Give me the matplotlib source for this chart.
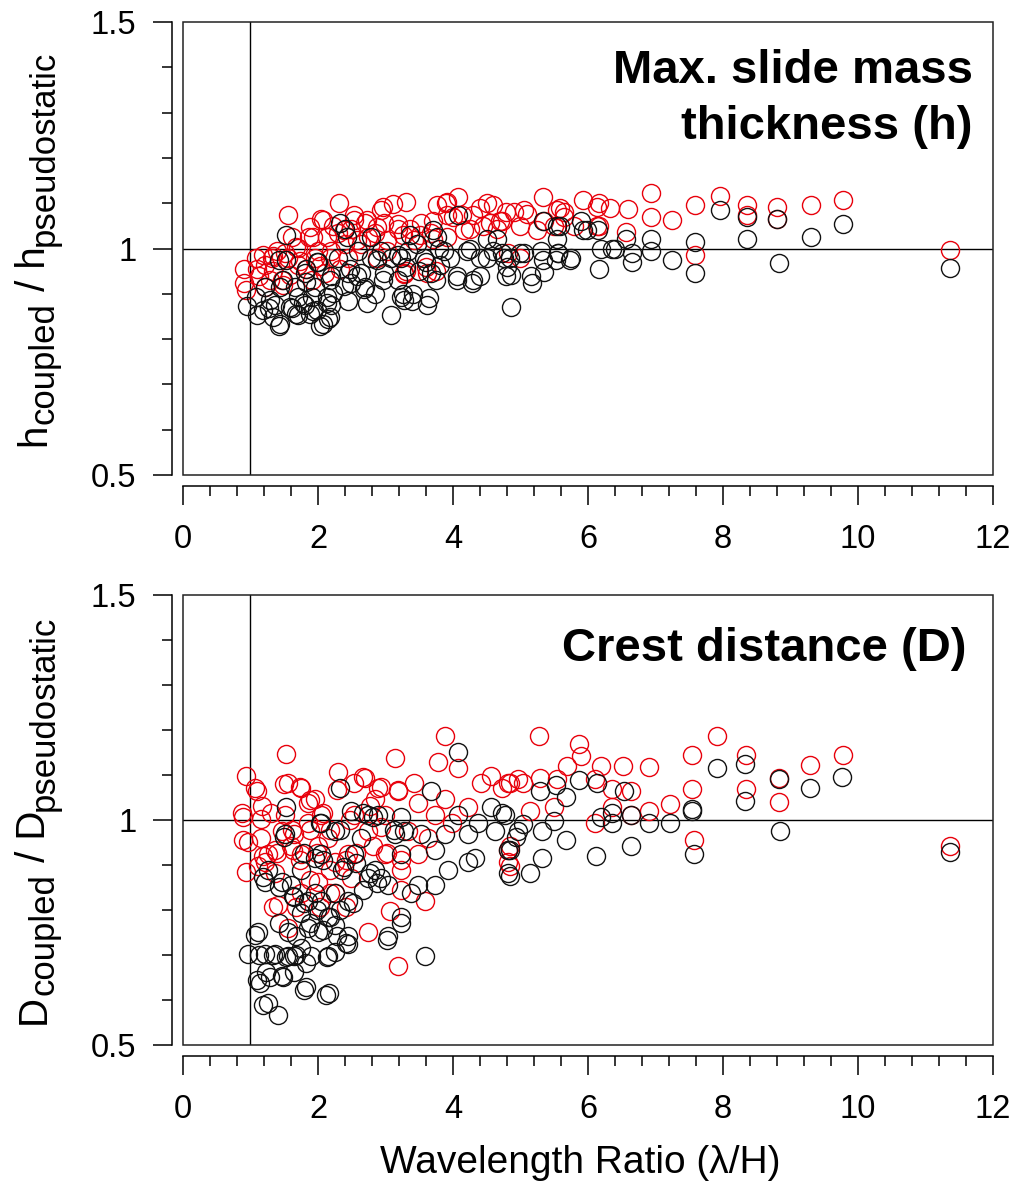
"""Coupled vs pseudostatic ratios against wavelength ratio (two stacked panels)."""

import matplotlib

matplotlib.use("Agg")
import matplotlib.pyplot as plt
import numpy as np
from matplotlib.patches import Rectangle
from matplotlib.ticker import MultipleLocator

plt.rcParams["font.family"] = ["Liberation Sans", "DejaVu Sans"]

RED = "#e8000b"
BLACK = "#111111"

X_TICKS = [0, 2, 4, 6, 8, 10, 12]
Y_TICKS = [0.5, 1.0, 1.5]
Y_TICK_LABELS = ["0.5", "1", "1.5"]

# (wavelength ratio, h_coupled / h_pseudostatic) -- red series
h_red = [
    (0.90, 0.955), (0.90, 0.924), (0.93, 0.908), (1.08, 0.979), (1.22, 0.963), (1.55, 1.075),
    (1.39, 0.994), (1.71, 1.002), (1.86, 1.026), (2.05, 1.065), (2.31, 1.101), (2.49, 1.042),
    (2.69, 1.057), (2.93, 1.085), (3.11, 1.099), (3.37, 1.042), (3.77, 1.097), (3.89, 1.101),
    (4.08, 1.113), (4.13, 1.073), (4.40, 1.089), (4.60, 1.097), (4.79, 1.081), (3.52, 1.057),
    (3.18, 1.042), (2.20, 0.994), (2.30, 1.034), (2.64, 1.010), (2.84, 1.034), (3.03, 0.994),
    (3.28, 0.947), (3.67, 1.034), (3.91, 1.026), (4.25, 1.042), (4.55, 1.057), (3.62, 0.947),
    (1.56, 0.979), (1.47, 0.931), (1.22, 0.916), (1.96, 0.979), (1.91, 0.931), (2.44, 0.979),
    (2.10, 0.947), (2.54, 1.073), (2.74, 1.026), (2.98, 1.057), (3.42, 1.018), (2.40, 1.010),
    (1.12, 0.939), (1.32, 0.979), (1.71, 0.963), (2.00, 0.994), (1.61, 1.026), (2.22, 1.050),
    (2.88, 0.979), (3.91, 1.073), (4.30, 1.073), (4.65, 1.042),
    (3.31, 1.102), (3.91, 1.102), (4.50, 1.100), (5.34, 1.113), (5.93, 1.106), (6.17, 1.100),
    (6.32, 1.090), (3.71, 1.060), (4.00, 1.070), (4.70, 1.060), (4.90, 1.080), (5.10, 1.076),
    (5.54, 1.086), (5.64, 1.070), (5.79, 1.050), (5.00, 1.050), (5.24, 1.040), (4.45, 1.050),
    (4.16, 1.040), (3.51, 1.030), (3.26, 1.030), (6.17, 1.050), (3.70, 1.020), (3.31, 0.950),
    (3.60, 0.960), (3.75, 0.950),
    (6.93, 1.122), (6.93, 1.069), (7.24, 1.062), (7.58, 1.096), (7.58, 0.985), (7.95, 1.116),
    (8.35, 1.096), (8.35, 1.075), (8.80, 1.092), (8.80, 1.066), (9.31, 1.096), (9.78, 1.107),
    (11.36, 0.996), (6.14, 1.092), (6.59, 1.088), (6.56, 1.037), (5.59, 1.090), (5.05, 1.085),
    (4.72, 1.060), (5.35, 1.060), (5.50, 1.050), (5.64, 1.080), (6.14, 1.050), (5.00, 0.980),
    (4.81, 0.990),
    (1.19, 0.985), (1.34, 0.983), (1.51, 0.990), (1.68, 1.003), (1.73, 0.973), (1.88, 1.047),
    (1.93, 1.025), (2.08, 1.062), (2.13, 1.025), (2.18, 0.980), (2.38, 1.040), (2.53, 1.062),
    (2.58, 1.018), (2.73, 1.062), (2.88, 1.047), (2.97, 1.091), (3.03, 1.018), (3.18, 1.055),
    (1.34, 0.950), (1.58, 0.942), (1.09, 0.955), (1.83, 0.955), (2.03, 0.962), (2.33, 0.955),
    (1.29, 0.930), (1.48, 0.920), (3.28, 0.943),
]

# (wavelength ratio, h_coupled / h_pseudostatic) -- black series
h_black = [
    (0.95, 0.872), (1.10, 0.853), (1.22, 0.916), (1.27, 0.869), (1.42, 0.829), (1.52, 0.975),
    (1.52, 1.030), (1.61, 0.869), (1.71, 0.853), (1.81, 0.876), (1.81, 0.947), (1.93, 0.861),
    (2.03, 0.829), (2.15, 0.845), (2.13, 0.892), (2.32, 1.057), (2.40, 1.042), (2.44, 0.884),
    (2.20, 0.939), (2.49, 0.924), (2.64, 0.947), (2.84, 0.900), (3.08, 0.853), (2.98, 0.947),
    (3.23, 0.979), (3.23, 0.892), (3.40, 0.884), (3.62, 0.876), (3.67, 0.947), (3.47, 1.010),
    (3.77, 1.026), (4.08, 1.075), (4.06, 0.931), (4.28, 0.924), (4.21, 0.994), (4.40, 0.979),
    (4.60, 0.994), (4.79, 0.939), (4.84, 0.979), (2.59, 0.994), (2.93, 0.994), (2.30, 0.979),
    (2.00, 0.971), (1.96, 0.916), (1.66, 0.916), (1.44, 0.916), (1.08, 0.892), (1.37, 0.876),
    (1.71, 0.892), (1.91, 0.892), (2.20, 0.876), (2.69, 0.916), (2.44, 0.947), (3.18, 0.931),
    (3.33, 0.994), (3.57, 0.979), (3.86, 0.994), (3.81, 0.963), (2.79, 0.979), (3.08, 0.979),
    (3.36, 1.030), (3.70, 1.040), (3.80, 1.000), (3.95, 0.980), (4.25, 1.000), (4.50, 1.020),
    (4.65, 1.020), (4.50, 0.980), (4.75, 0.980), (5.00, 0.990), (5.30, 0.995), (5.55, 0.990),
    (5.75, 0.980), (5.34, 1.060), (5.54, 1.050), (5.89, 1.060), (6.20, 1.000), (6.35, 1.000),
    (6.17, 0.955), (4.06, 0.940), (4.30, 0.930), (4.40, 0.940), (4.80, 0.960), (5.15, 0.940),
    (3.65, 0.890), (3.41, 0.900), (3.26, 0.900), (3.75, 0.930), (3.50, 0.950), (3.31, 0.960),
    (3.60, 0.970), (5.99, 1.040), (5.54, 1.020),
    (4.86, 0.942), (4.86, 0.871), (5.17, 0.923), (5.35, 0.948), (5.33, 0.975), (5.53, 0.975),
    (5.73, 0.975), (5.56, 0.990), (5.58, 1.050), (5.93, 1.040), (6.15, 1.040), (6.40, 1.000),
    (6.57, 1.020), (6.65, 0.990), (6.65, 0.970), (6.93, 1.020), (6.93, 0.995), (7.24, 0.975),
    (7.58, 1.015), (7.58, 0.945), (7.95, 1.085), (8.35, 1.070), (8.35, 1.020), (8.80, 1.065),
    (8.83, 0.967), (9.31, 1.026), (9.78, 1.053), (11.36, 0.957), (5.05, 0.990), (4.72, 0.990),
    (1.19, 0.864), (1.34, 0.849), (1.44, 0.834), (1.29, 0.886), (1.48, 0.930), (1.43, 0.974),
    (1.58, 0.871), (1.68, 0.856), (1.78, 0.879), (1.88, 0.856), (1.83, 0.955), (1.83, 0.925),
    (1.98, 0.864), (2.08, 0.834), (2.18, 0.849), (2.13, 0.879), (2.23, 0.901), (1.98, 0.970),
    (2.43, 1.025), (2.48, 0.955), (2.38, 0.918), (2.58, 0.940), (2.68, 0.910), (2.78, 1.025),
    (2.88, 0.974), (2.97, 0.930), (3.18, 0.985), (3.28, 0.886), (2.18, 0.930), (2.73, 0.879),
]

# (wavelength ratio, D_coupled / D_pseudostatic) -- red series
d_red = [
    (0.94, 1.098), (0.89, 1.007), (0.96, 0.950), (0.94, 0.885), (1.09, 1.064), (1.16, 1.003),
    (1.21, 0.907), (1.26, 0.924), (1.53, 1.146), (1.56, 1.081), (1.51, 1.011), (1.46, 0.976),
    (1.41, 0.811), (1.56, 0.759), (1.75, 1.072), (1.85, 1.037), (1.95, 1.046), (2.05, 1.011),
    (2.30, 1.107), (2.54, 1.081), (2.69, 1.094), (2.89, 1.072), (3.14, 1.138), (3.19, 1.064),
    (3.48, 1.037), (3.78, 1.129), (3.88, 1.186), (4.07, 1.116), (3.19, 0.676), (3.06, 0.798),
    (3.58, 0.820), (3.73, 1.011), (4.42, 1.081), (4.57, 1.098), (4.81, 1.081), (4.96, 1.090),
    (4.81, 0.933), (4.81, 0.907), (1.16, 0.959), (1.75, 0.924), (2.00, 0.942), (2.15, 0.959),
    (2.25, 0.907), (2.44, 0.924), (2.74, 0.976), (2.99, 1.011), (3.33, 0.976), (3.48, 0.924),
    (3.63, 0.959), (3.88, 1.046), (3.98, 0.994), (4.22, 1.029), (3.23, 0.889), (2.99, 0.924),
    (2.49, 0.872), (2.25, 0.837), (2.00, 0.863), (1.75, 0.837), (1.36, 0.881), (1.11, 0.898),
    (1.36, 0.933), (1.60, 0.942), (1.65, 0.968), (1.85, 0.994), (2.54, 1.011), (2.84, 1.046),
    (3.43, 1.081), (2.74, 0.750),
    (1.07, 1.070), (1.50, 1.080), (1.73, 1.074), (1.88, 1.044), (2.28, 1.067), (2.67, 1.096),
    (2.93, 1.074), (3.18, 1.067), (0.88, 1.015), (1.17, 1.030), (1.31, 1.015), (1.61, 0.978),
    (1.88, 0.978), (2.08, 1.015), (2.18, 0.978), (2.47, 1.000), (2.77, 1.030), (2.93, 0.985),
    (0.89, 0.956), (1.19, 0.919), (1.39, 0.926), (1.63, 0.933), (1.73, 0.911), (1.98, 0.926),
    (2.18, 0.889), (2.42, 0.911), (2.57, 0.926), (2.82, 0.941), (3.03, 0.926), (3.23, 0.911),
    (1.88, 0.867), (2.18, 0.837), (1.68, 0.807), (1.33, 0.807), (2.03, 0.807), (2.42, 0.807),
    (3.23, 0.844),
    (5.28, 1.187), (5.87, 1.168), (5.90, 1.142), (5.69, 1.120), (6.20, 1.120), (6.52, 1.120),
    (6.90, 1.118), (7.22, 1.036), (7.54, 1.144), (7.54, 1.068), (7.57, 0.955), (7.91, 1.187),
    (8.34, 1.144), (8.34, 1.068), (8.83, 1.040), (8.83, 1.094), (9.29, 1.122), (9.78, 1.144),
    (11.36, 0.943), (5.29, 1.094), (5.54, 1.090), (5.04, 1.081), (4.84, 1.081), (6.10, 1.090),
    (6.35, 1.068), (6.63, 1.064), (6.10, 0.994), (6.35, 1.029), (6.63, 1.011), (6.91, 1.020),
    (5.14, 1.020), (5.49, 1.029), (4.84, 0.942), (4.84, 0.898), (4.73, 1.072),
]

# (wavelength ratio, D_coupled / D_pseudostatic) -- black series
d_black = [
    (0.96, 0.702), (1.11, 0.750), (1.14, 0.637), (1.21, 0.702), (1.23, 0.663), (1.26, 0.593),
    (1.41, 0.567), (1.36, 0.702), (1.46, 0.654), (1.56, 0.698), (1.65, 0.698), (1.65, 0.663),
    (1.75, 0.715), (1.83, 0.628), (1.85, 0.759), (1.90, 0.698), (2.00, 0.750), (2.17, 0.615),
    (2.15, 0.698), (2.25, 0.706), (2.44, 0.741), (2.44, 0.724), (1.53, 1.029), (1.51, 0.968),
    (1.46, 0.863), (1.60, 0.855), (1.65, 0.828), (1.75, 0.794), (1.85, 0.820), (1.95, 0.837),
    (2.05, 0.994), (2.05, 0.924), (2.15, 0.785), (2.25, 0.837), (2.32, 1.072), (2.35, 0.889),
    (2.44, 0.820), (2.54, 0.924), (2.64, 0.959), (2.74, 0.872), (2.74, 1.011), (2.89, 1.011),
    (2.94, 0.872), (3.04, 0.741), (3.14, 0.968), (3.23, 0.785), (3.28, 0.976), (3.38, 0.837),
    (3.58, 0.698), (3.48, 0.855), (3.68, 1.064), (3.73, 0.855), (3.73, 0.933), (3.93, 0.889),
    (4.07, 1.151), (4.07, 1.011), (4.22, 0.907), (4.32, 0.916), (4.37, 0.994), (4.57, 1.029),
    (4.62, 0.976), (4.77, 1.011), (4.81, 0.933), (4.81, 0.881), (4.96, 0.976), (1.26, 0.889),
    (1.21, 0.863), (3.04, 0.855), (2.84, 0.889), (3.23, 0.924), (3.53, 0.968), (2.49, 1.020),
    (2.25, 0.976), (1.95, 0.916), (1.75, 0.889), (3.88, 0.968), (4.22, 0.968), (1.56, 0.750),
    (2.05, 0.820), (2.25, 0.767),
    (2.03, 0.993), (2.33, 0.978), (2.67, 1.015), (2.82, 1.007), (3.12, 0.978), (3.23, 1.007),
    (1.50, 0.963), (1.79, 0.926), (2.08, 0.911), (2.38, 0.896), (2.57, 0.904), (2.77, 0.881),
    (2.88, 0.859), (1.19, 0.874), (1.43, 0.852), (1.63, 0.830), (1.79, 0.815), (1.98, 0.800),
    (2.18, 0.785), (2.33, 0.800), (2.52, 0.815), (2.67, 0.844), (1.88, 0.770), (2.08, 0.756),
    (2.28, 0.741), (2.42, 0.726), (1.68, 0.741), (1.43, 0.770), (1.07, 0.744), (1.13, 0.700),
    (1.33, 0.700), (1.53, 0.696), (1.68, 0.700), (1.83, 0.681), (2.13, 0.696), (1.09, 0.644),
    (1.29, 0.652), (1.48, 0.652), (1.79, 0.622), (2.12, 0.611), (1.19, 0.589), (3.03, 0.733),
    (3.23, 0.770),
    (7.91, 1.115), (8.32, 1.125), (8.32, 1.042), (8.83, 1.091), (8.84, 0.976), (9.29, 1.072),
    (9.77, 1.096), (11.36, 0.929), (7.54, 1.024), (7.57, 0.924), (7.22, 0.994), (6.91, 0.994),
    (6.63, 1.011), (6.63, 0.943), (6.53, 1.064), (6.12, 0.919), (6.13, 1.081), (5.87, 1.088),
    (5.67, 1.051), (5.67, 0.955), (5.52, 1.077), (5.49, 0.997), (5.32, 0.916), (5.29, 1.064),
    (5.32, 0.976), (5.14, 0.881), (5.04, 0.990), (4.84, 0.876), (4.84, 0.933), (4.73, 1.016),
    (6.20, 1.007), (6.35, 1.016), (6.35, 0.994), (7.54, 1.020), (4.94, 0.963),
]

# y-label pieces: (text, is_subscript)
H_LABEL = [("h", False), ("coupled", True), (" / h", False), ("pseudostatic", True)]
D_LABEL = [("D", False), ("coupled", True), (" / D", False), ("pseudostatic", True)]
X_LABEL = "Wavelength Ratio (\u03bb/H)"


def _ylabel(fig, ax, pieces, x_axes=-0.17, size=29, sub_size=25, sub_drop=8):
    """Write a rotated label piece by piece so the subscripts keep a readable size."""
    renderer = fig.canvas.get_renderer()
    items = []
    for s, is_sub in pieces:
        t = fig.text(0, 0, s, fontsize=sub_size if is_sub else size, rotation=90,
                     rotation_mode="anchor", ha="left", va="baseline")
        items.append((t, t.get_window_extent(renderer).height, is_sub))
    total = sum(length for _, length, _ in items)
    x0, yc = ax.transAxes.transform((x_axes, 0.5))
    y = yc - total / 2
    inv = fig.transFigure.inverted()
    for t, length, is_sub in items:
        t.set_position(inv.transform((x0 + (sub_drop if is_sub else 0), y)))
        y += length


def _panel(ax, red, black, note, note_xy):
    """Draw one SigmaPlot-style panel with a boxed frame and detached axes."""
    for pts, col in ((red, RED), (black, BLACK)):
        arr = np.asarray(pts)
        ax.plot(arr[:, 0], arr[:, 1], "o", ms=13, mfc="none", mec=col, mew=1.0, zorder=3)

    ax.axhline(1.0, color="black", lw=1.0, zorder=2)
    ax.axvline(1.0, color="black", lw=1.0, zorder=2)

    ax.set_xlim(0, 12)
    ax.set_ylim(0.5, 1.5)

    for side in ("top", "right"):
        ax.spines[side].set_visible(False)
    for side in ("left", "bottom"):
        ax.spines[side].set_position(("outward", 8))
        ax.spines[side].set_linewidth(1.1)
    ax.add_patch(Rectangle((0, 0), 1, 1, transform=ax.transAxes, fill=False,
                           lw=1.1, ec="#222222", clip_on=False, zorder=4))

    ax.set_xticks(X_TICKS)
    ax.xaxis.set_minor_locator(MultipleLocator(0.4))
    ax.set_yticks(Y_TICKS)
    ax.set_yticklabels(Y_TICK_LABELS)
    ax.yaxis.set_minor_locator(MultipleLocator(0.1))
    ax.tick_params(which="major", length=13.5, width=1.1, labelsize=23.5)
    ax.tick_params(which="minor", length=7.5, width=1.1)
    ax.tick_params(axis="y", which="major", pad=12)
    ax.tick_params(axis="x", which="major", pad=14)

    ax.text(note_xy[0], note_xy[1], note, transform=ax.transAxes, ha="right", va="top",
            fontsize=34, fontweight="bold", linespacing=1.35, multialignment="right")


def main() -> None:
    fig = plt.figure(figsize=(10.36, 11.93), dpi=100)
    ax_h = fig.add_axes([0.1766, 0.6018, 0.7819, 0.3798])
    ax_d = fig.add_axes([0.1766, 0.1241, 0.7819, 0.3772])

    _panel(ax_h, h_red, h_black, "Max. slide mass\nthickness (h)", (0.975, 0.94))
    _panel(ax_d, d_red, d_black, "Crest distance (D)", (0.967, 0.929))

    _ylabel(fig, ax_h, H_LABEL)
    _ylabel(fig, ax_d, D_LABEL)

    ax_d.set_xlabel(X_LABEL, fontsize=28)
    ax_d.xaxis.set_label_coords(0.49, -0.222)

    fig.savefig("out.png", dpi=100, facecolor="white")
    plt.close(fig)


if __name__ == "__main__":
    main()
